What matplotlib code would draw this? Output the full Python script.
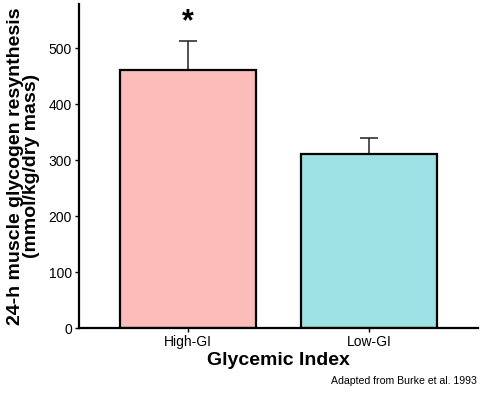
import matplotlib
matplotlib.use("Agg")
import matplotlib.pyplot as plt

categories = ["High-GI", "Low-GI"]
means = [461, 311]
errors = [51, 28]
colors = ["#FCBDBA", "#9DE1E5"]
yticks = [0, 100, 200, 300, 400, 500]
signif = ["*", ""]

plt.rcParams['font.family'] = ['Liberation Sans', 'DejaVu Sans']

fig = plt.figure(figsize=(4.84, 3.93), dpi=100)
ax = fig.add_axes([79/484, 65/393, 399/484, 324/393])

x = [1, 2]
ax.bar(x, means, width=0.75, color=colors, edgecolor="black", linewidth=1.6, zorder=2)
ax.errorbar(x, means, yerr=[[0]*len(errors), errors], fmt="none", ecolor="#222222",
            elinewidth=1.1, capsize=6.5, capthick=1.1, zorder=1)
for xi, m, e, s in zip(x, means, errors, signif):
    if s:
        ax.text(xi, m + e + 34, s, ha="center", va="center", fontsize=22, fontweight="bold")

ax.set_xlim(0.4, 2.6)
ax.set_ylim(0, 579)
ax.set_xticks(x)
ax.set_xticklabels(categories, fontsize=10)
ax.set_yticks(yticks)
ax.set_yticklabels([str(t) for t in yticks], fontsize=10)
for s in ["top", "right"]:
    ax.spines[s].set_visible(False)
for s in ["left", "bottom"]:
    ax.spines[s].set_linewidth(1.6)
ax.tick_params(length=3, width=1.0, pad=2)
ax.set_xlabel("Glycemic Index", fontsize=14, fontweight="bold", labelpad=2)
ax.set_ylabel("24-h muscle glycogen resynthesis\n(mmol/kg/dry mass)", fontsize=14,
              fontweight="bold", linespacing=0.92, labelpad=6)
fig.text(477/484, 1 - 381/393, "Adapted from Burke et al. 1993", ha="right", va="center", fontsize=7.6)

fig.savefig("out.png", dpi=100)
